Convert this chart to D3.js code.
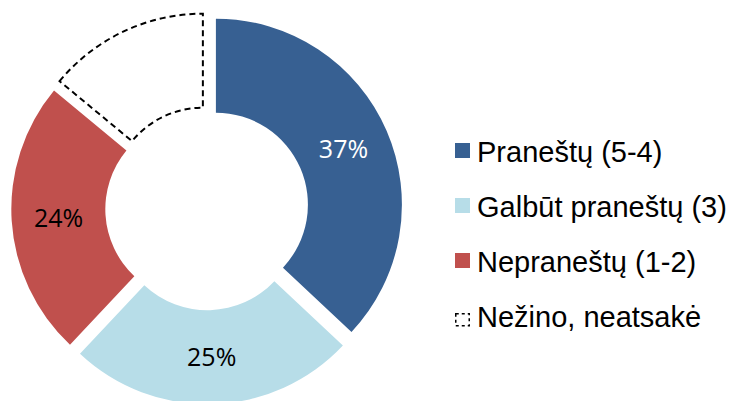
<!DOCTYPE html>
<html>
<head>
<meta charset="utf-8">
<script src="https://cdn.jsdelivr.net/npm/d3@7"></script>
<style>
  html, body { margin: 0; padding: 0; background: #fff; }
  svg { display: block; }
</style>
</head>
<body>
<svg id="chart" width="732" height="401"></svg>
<script>
// Answer shares, clockwise from 12 o'clock
const categories = ["Praneštų (5-4)", "Galbūt praneštų (3)", "Nepraneštų (1-2)", "Nežino, neatsakė"];
const shares = [37, 25, 24, 14];
const showLabel = [true, true, true, false];
const colors = ["#376092", "#b7dde8", "#c0504d", "#ffffff"];
const labelColors = ["#ffffff", "#000000", "#000000", "#000000"];

const svg = d3.select("#chart");

const cx = 207, cy = 208.5;
const outerR = 186, innerR = 92;
const explode = 9.7;

const data = categories.map((name, i) => ({ name, value: shares[i], i }));

const pie = d3.pie()
  .sort(null)
  .value((d) => d.value);

const arc = d3.arc()
  .innerRadius(innerR)
  .outerRadius(outerR);

const donut = svg.append("g")
  .attr("transform", `translate(${cx},${cy})`);

const slices = donut.selectAll("g.slice")
  .data(pie(data))
  .enter().append("g")
  .attr("class", "slice")
  .attr("transform", (d) => {
    const mid = (d.startAngle + d.endAngle) / 2;
    return `translate(${Math.sin(mid) * explode},${-Math.cos(mid) * explode})`;
  });

slices.append("path")
  .attr("d", arc)
  .attr("fill", (d) => colors[d.data.i])
  .attr("stroke", (d) => d.data.i === 3 ? "#000" : "none")
  .attr("stroke-width", 2)
  .attr("stroke-dasharray", (d) => d.data.i === 3 ? "6,4" : null);

slices.filter((d) => showLabel[d.data.i])
  .append("text")
  .attr("transform", (d) => `translate(${arc.centroid(d)})`)
  .attr("text-anchor", "middle")
  .attr("dy", "0.36em")
  .style("font-family", "'Open Sans', 'Noto Sans', sans-serif")
  .style("font-size", "25px")
  .attr("fill", (d) => labelColors[d.data.i])
  .text((d) => d.data.value + "%");

// Legend
const legend = svg.append("g")
  .attr("transform", "translate(455,143)");

const rowGap = 55;

const rows = legend.selectAll("g.row")
  .data(data)
  .enter().append("g")
  .attr("class", "row")
  .attr("transform", (d) => `translate(0,${d.i * rowGap})`);

rows.append("rect")
  .attr("x", (d) => d.i === 3 ? 0.75 : 0)
  .attr("y", (d) => d.i === 3 ? 0.75 + 170 - 165 : 0)
  .attr("width", (d) => d.i === 3 ? 13.5 : 15)
  .attr("height", (d) => d.i === 3 ? 12 : 15)
  .attr("fill", (d) => d.i === 3 ? "#fff" : colors[d.i])
  .attr("stroke", (d) => d.i === 3 ? "#000" : "none")
  .attr("stroke-width", 1.5)
  .attr("stroke-dasharray", (d) => d.i === 3 ? "3,3" : null);

rows.append("text")
  .attr("x", 22)
  .attr("y", 19)
  .style("font-family", "'Liberation Sans', Arial, sans-serif")
  .style("font-size", "29px")
  .attr("fill", "#000")
  .text((d) => d.name);
</script>
</body>
</html>
